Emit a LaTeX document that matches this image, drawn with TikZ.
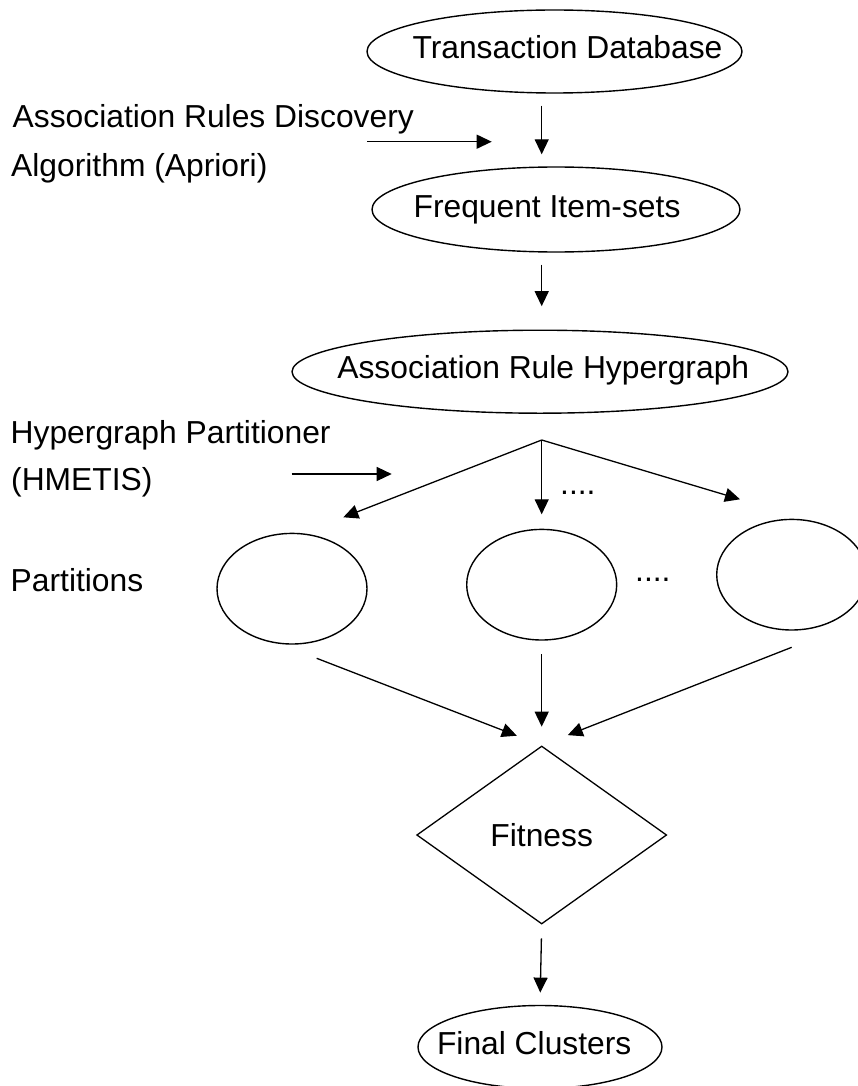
\documentclass[tikz,border=0pt]{standalone}
\usepackage{fontspec}
\setmainfont{Liberation Sans}
\usetikzlibrary{shapes.geometric,arrows.meta}
\begin{document}
\begin{tikzpicture}[x=1pt,y=-1pt,
  oval/.style={ellipse,draw,line width=1.4pt,inner sep=0pt},
  arr/.style={line width=1.3pt,-{Triangle[length=15pt,width=14pt]}},
  lbl/.style={inner sep=0pt,font=\fontsize{31.8}{38}\selectfont}]
\useasboundingbox (0,0) rectangle (858,1086);
\fill[white] (0,0) rectangle (858,1086);

% main column of the flow
\coordinate (axis) at (541.7,440);

% ellipses of the pipeline
\node[oval,minimum width=375pt,minimum height=83pt] (trans) at (554.5,51.5) {};
\node[lbl,anchor=base] (transT) at (567.5,58.3) {Transaction Database};

\node[oval,minimum width=368pt,minimum height=85pt] (freq) at (556,209.5) {};
\node[lbl,anchor=base] (freqT) at (547,217) {Frequent Item-sets};

\node[oval,minimum width=496pt,minimum height=83pt] (hyp) at (540,371.7) {};
\node[lbl,anchor=base] (hypT) at (543.3,378.3) {Association Rule Hypergraph};

% partitions
\node[oval,minimum width=150pt,minimum height=110.6pt] (p1) at (292,588.7) {};
\node[oval,minimum width=150pt,minimum height=110.6pt] (p2) at (541.7,584.7) {};
\node[oval,minimum width=150pt,minimum height=110.6pt] (p3) at (791.7,574.7) {};
\node[lbl,anchor=base west] (dots1) at (560,494.5) {....};
\node[lbl,anchor=base west] (dots2) at (635,581) {....};

% fitness test and result
\node[diamond,draw,line width=1.3pt,minimum width=250pt,minimum height=178pt,
      inner sep=0pt,lbl] (fit) at (541.7,835) {Fitness};
\node[oval,minimum width=244pt,minimum height=83pt] (final) at (540,1047) {};
\node[lbl,anchor=base] (finalT) at (534.2,1054) {Final Clusters};

% side captions
\node[lbl,anchor=base west] (cap1) at (12.5,128) {Association Rules Discovery};
\node[lbl,anchor=base west] (cap2) at (11,177) {Algorithm (Apriori)};
\node[lbl,anchor=base west] (cap3) at (10.5,443.3) {Hypergraph Partitioner};
\node[lbl,anchor=base west] (cap4) at (11,490) {(HMETIS)};
\node[lbl,anchor=base west] (cap5) at (10.5,591.7) {Partitions};

% free arrow ends
\coordinate (r1a) at (367,141.7);
\coordinate (r1b) at (491.7,141.7);
\coordinate (r2a) at (291.7,474);
\coordinate (r2b) at (391.7,474);
\coordinate (t1) at (343.3,517.3);
\coordinate (t3) at (740,499.3);
\coordinate (b1) at (316.7,658.3);
\coordinate (b3) at (791.7,647.3);

% connectors
\draw[arr,shorten <=12pt,shorten >=12pt] (trans.south -| axis) -- (freq.north -| axis);
\draw[arr] (r1a) -- (r1b);
\draw[arr,shorten <=12pt,shorten >=23.3pt] (freq.south -| axis) -- (hyp.north -| axis);
\draw[arr] (r2a) -- (r2b);
\draw[arr] (axis) -- (t1);
\draw[arr,shorten >=14.4pt] (axis) -- (p2.north);
\draw[arr] (axis) -- (t3);
\draw[arr,shorten >=26.7pt] (b1) -- (fit.north);
\draw[arr,shorten <=13.3pt,shorten >=18.7pt] (p2.south) -- (fit.north);
\draw[arr,shorten >=28pt] (b3) -- (fit.north);
\draw[arr,shorten <=13.7pt,shorten >=12.2pt] (fit.south) -- (final.north);
\end{tikzpicture}
\end{document}
